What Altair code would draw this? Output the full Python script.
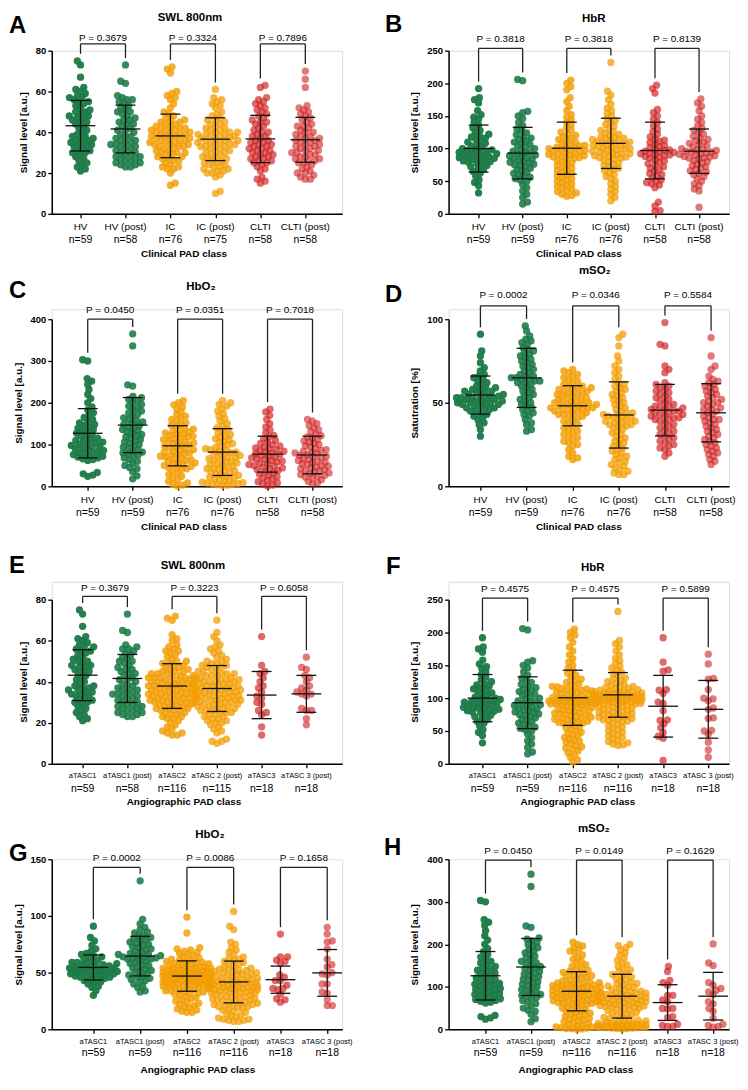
import altair as alt
import pandas as pd

FONT = "Liberation Sans"

CLIN = ["HV", "HV (post)", "IC", "IC (post)", "CLTI", "CLTI (post)"]
ANGIO = ["aTASC1", "aTASC1 (post)", "aTASC2", "aTASC 2 (post)", "aTASC3", "aTASC 3 (post)"]
COLORS = ["#1b7a46", "#1b7a46", "#f29d00", "#f29d00", "#cf1f1f", "#cf1f1f"]
OPACITY = [0.95, 0.6, 0.95, 0.62, 0.95, 0.58]

# ---------------- Panel A : SWL 800nm (clinical) ----------------
A_HV = [75,73,67,62,61,60,59,58,57,57,56,55,55,54,53,52,51,50,50,49,48,48,47,47,46,45,45,44,43,42,41,40,39,38,38,37,37,36,36,35,35,34,34,33,33,32,31,31,30,30,29,28,27,26,25,24,23,22,21]
A_HVP = [73,65,64,58,57,56,56,55,54,53,52,51,50,50,49,48,47,46,46,45,44,44,43,42,41,41,40,39,38,38,37,36,36,35,35,34,34,33,33,32,32,31,30,30,29,29,28,28,27,27,26,26,25,25,24,24,23,23]
A_IC = [72,71,69,60,59,58,57,56,54,52,50,49,48,47,46,46,45,45,44,44,43,43,42,42,42,41,41,41,40,40,40,39,39,39,38,38,38,37,37,37,36,36,36,35,35,35,34,34,34,33,33,33,32,32,31,31,30,30,30,29,29,28,28,27,27,26,26,25,24,23,23,22,22,20,15,14]
A_ICP = [61,57,56,55,54,53,52,50,49,48,47,46,46,45,44,44,43,42,42,41,41,40,40,40,39,39,39,38,38,38,37,37,37,36,36,36,35,35,35,34,34,34,33,33,33,32,32,31,31,30,30,29,29,28,28,27,27,26,26,25,25,24,24,23,23,22,22,21,21,20,20,19,18,11,10]
A_CLTI = [63,62,57,56,55,54,53,52,51,50,49,48,47,46,45,45,44,43,42,41,40,40,39,38,38,37,36,36,35,35,34,34,33,33,32,32,31,31,30,30,29,29,28,28,27,27,26,26,25,25,24,23,22,21,18,17,16,15]
A_CLTIP = [70,66,62,53,52,51,50,49,48,47,46,45,44,43,43,42,41,40,40,39,38,38,37,37,36,36,35,35,34,34,33,33,32,32,31,31,30,30,29,29,28,28,27,27,26,26,25,25,24,23,22,21,20,20,19,18,17,17]
A_N = ["n=59", "n=58", "n=76", "n=75", "n=58", "n=58"]
A_MEAN = [43.2, 41.6, 38.2, 36.6, 36.7, 36.3]
A_SD = [12.4, 11.7, 10.7, 10.5, 11.6, 11.0]
A_P = ["P = 0.3679", "P = 0.3324", "P = 0.7896"]

# ---------------- Panel B : HbR (clinical) ----------------
B_HV = [192,178,175,170,158,152,148,145,140,136,132,128,125,122,120,118,116,114,112,110,108,106,104,102,100,99,98,97,96,95,94,93,92,91,90,89,88,87,86,85,84,83,82,81,80,79,78,76,74,72,70,68,65,62,58,52,48,43,32]
B_HVP = [206,204,157,155,150,146,140,135,130,127,124,121,118,116,114,112,110,108,106,104,102,100,98,96,95,94,92,90,89,88,86,85,84,82,80,79,78,76,75,74,72,70,68,66,64,62,60,58,56,54,52,50,45,40,35,30,25,18,15]
B_IC = [205,200,195,190,178,172,165,158,152,148,144,140,136,132,128,125,122,120,118,116,114,112,110,108,106,105,104,103,102,101,100,99,98,97,96,95,94,93,92,91,90,89,88,87,86,85,84,82,80,78,76,74,72,70,68,66,64,62,60,58,56,54,52,50,48,46,44,42,40,38,36,34,32,30,28,27]
B_ICP = [232,188,182,175,168,162,158,154,150,146,143,140,137,134,131,128,126,124,122,120,118,117,116,115,114,113,112,111,110,109,108,107,106,105,104,103,102,101,100,99,98,97,96,95,94,93,92,91,90,89,88,87,86,85,84,82,80,78,76,74,72,70,68,66,63,60,57,54,50,46,42,38,34,30,25,20]
B_CLTI = [197,192,185,160,155,150,145,140,135,130,126,122,118,115,113,111,109,107,105,103,101,99,98,97,96,95,94,93,92,91,90,89,88,87,85,83,81,79,77,75,72,70,68,65,62,60,58,55,52,50,48,46,44,40,18,12,5,4]
B_CLTIP = [176,170,165,158,150,145,140,135,131,128,125,122,119,116,114,112,110,108,106,104,102,100,99,98,97,96,95,94,93,92,91,90,89,88,87,86,85,84,82,80,78,76,74,72,70,68,66,64,62,60,57,54,50,46,43,38,35,10]
B_N = ["n=59", "n=59", "n=76", "n=76", "n=58", "n=58"]
B_MEAN = [100, 93, 100.5, 108, 97, 96]
B_SD = [36, 39.5, 40, 38.5, 43.5, 34]
B_P = ["P = 0.3818", "P = 0.3818", "P = 0.8139"]

# ---------------- Panel C : HbO2 (clinical) ----------------
C_HV = [303,300,258,252,244,232,220,210,200,190,183,176,170,165,160,156,152,148,145,142,139,136,133,130,127,124,121,118,115,112,110,108,106,104,102,100,98,96,94,92,90,88,86,84,82,80,78,76,74,72,70,68,66,64,62,33,30,27,24]
C_HVP = [365,336,243,240,215,212,208,204,200,196,192,188,184,180,176,172,168,164,160,157,154,151,148,145,142,139,136,133,130,127,124,121,118,115,112,109,106,103,100,97,94,91,88,85,82,80,78,75,72,68,64,60,55,50,45,42,35,25,18]
C_IC = [205,200,195,190,185,178,172,168,164,160,156,152,149,146,143,140,137,134,132,130,128,126,124,122,120,118,116,114,112,110,108,106,104,102,100,98,96,94,92,90,88,86,84,82,80,78,76,74,72,70,68,66,64,62,60,58,56,54,52,50,48,46,44,42,40,36,32,28,24,20,16,12,8,5,3,1]
C_ICP = [205,200,196,192,186,180,174,168,162,156,150,145,140,136,132,128,124,120,117,114,111,108,105,102,99,96,93,90,88,86,84,82,80,78,76,74,72,70,68,66,64,62,60,58,56,54,52,50,48,46,44,42,40,38,36,34,32,30,28,26,24,22,20,18,16,14,12,10,9,8,7,6,5,4,3,2]
C_CLTI = [185,178,170,160,150,142,135,128,122,118,114,110,106,103,100,97,94,92,90,88,86,84,82,80,78,76,74,72,70,68,66,64,62,60,58,56,54,52,50,48,46,44,42,40,38,35,32,29,26,23,20,17,14,11,8,5,3,1]
C_CLTIP = [160,156,150,145,140,135,130,125,121,118,115,112,109,106,103,100,97,94,91,88,86,84,82,80,78,76,74,72,70,68,66,64,62,60,58,56,54,52,50,48,46,44,42,40,38,36,34,32,30,28,26,24,22,20,16,12,8,5]
C_N = ["n=59", "n=59", "n=76", "n=76", "n=58", "n=58"]
C_MEAN = [127, 146.5, 97, 82, 77, 75]
C_SD = [59, 66, 48, 56, 43, 45]
C_P = ["P = 0.0450", "P = 0.0351", "P = 0.7018"]

# ---------------- Panel D : mSO2 (clinical) ----------------
D_HV = [91,81,78,74,71,69,67,66,65,64,63,62,61,60,59,59,58,58,57,57,56,56,55,55,54,54,54,53,53,53,52,52,52,51,51,51,50,50,50,49,49,49,48,48,47,47,46,46,45,45,44,43,42,41,40,38,37,34,30]
D_HVP = [96,93,90,88,87,86,85,83,82,81,80,79,78,77,76,75,74,73,72,71,70,69,68,67,66,66,65,65,64,64,63,63,62,62,61,60,59,58,57,56,55,54,53,52,51,50,49,48,47,46,45,44,43,42,40,38,37,34,33]
D_IC = [70,69,68,67,66,65,64,63,62,61,60,60,59,59,58,58,57,57,56,56,55,55,54,54,53,53,52,52,51,51,50,50,50,49,49,49,48,48,48,47,47,47,46,46,46,45,45,44,44,43,43,42,42,41,40,39,38,37,36,35,34,33,32,31,30,29,28,27,26,25,24,22,20,18,17,16]
D_ICP = [91,89,84,78,75,72,70,68,66,64,62,61,60,59,58,57,56,55,54,53,52,51,50,49,48,47,46,45,44,44,43,43,42,42,41,41,40,40,39,39,38,38,37,37,36,36,35,34,33,32,31,30,29,28,27,26,25,24,23,22,21,20,19,18,17,16,15,14,13,12,11,10,9,8,7,7]
D_CLTI = [98,85,84,72,70,68,62,61,60,59,58,57,56,55,54,53,52,51,50,49,48,48,47,47,46,46,45,45,44,44,43,43,42,42,41,41,40,40,39,38,37,36,35,34,33,32,31,30,29,28,27,26,25,24,23,22,20,18]
D_CLTIP = [89,78,72,70,66,64,63,62,61,60,59,58,57,56,55,54,53,52,51,50,50,49,48,47,46,46,45,44,43,42,41,40,40,39,38,37,36,35,34,33,32,31,30,29,28,27,26,25,24,23,22,21,20,19,18,16,15,13]
D_N = ["n=59", "n=59", "n=76", "n=76", "n=58", "n=58"]
D_MEAN = [54.6, 64.9, 48.2, 42.7, 45.6, 44.0]
D_SD = [11.4, 17.7, 12.0, 19.8, 15.4, 17.4]
D_P = ["P = 0.0002", "P = 0.0346", "P = 0.5584"]

# ---------------- Panel E : SWL 800nm (angiographic) ----------------
E_T1 = A_HV
E_T1P = A_HVP
E_T2 = [72,71,70,63,61,60,58,57,56,55,55,54,53,52,51,50,50,49,49,48,48,47,47,46,46,45,45,45,44,44,44,43,43,43,42,42,42,42,41,41,41,41,40,40,40,40,39,39,39,39,38,38,38,38,37,37,37,37,36,36,36,36,35,35,35,35,34,34,34,34,33,33,33,33,32,32,32,32,31,31,31,31,30,30,30,30,29,29,29,28,28,28,27,27,27,26,26,26,25,25,24,24,23,23,22,22,21,20,19,18,17,16,15,15,14,14]
E_T2P = [70,64,62,60,58,57,56,55,54,53,52,51,50,50,49,49,48,48,47,47,46,46,45,45,44,44,44,43,43,43,42,42,42,41,41,41,40,40,40,40,39,39,39,39,38,38,38,38,37,37,37,37,36,36,36,36,35,35,35,35,34,34,34,34,33,33,33,33,32,32,32,32,31,31,31,31,30,30,30,30,29,29,29,29,28,28,28,27,27,27,26,26,26,25,25,25,24,24,23,23,22,22,21,21,20,20,19,18,17,16,15,12,11,11,10]
E_T3 = [62,48,45,44,42,40,38,37,35,33,32,30,29,26,25,24,18,14]
E_T3P = [52,47,46,43,42,40,38,37,36,35,34,34,33,27,26,26,22,19]
E_N = ["n=59", "n=58", "n=116", "n=115", "n=18", "n=18"]
E_MEAN = [43.2, 41.6, 37.9, 36.7, 33.5, 34.1]
E_SD = [12.4, 11.7, 10.9, 11.2, 11.5, 9.0]
E_P = ["P = 0.3679", "P = 0.3223", "P = 0.6058"]

# ---------------- Panel F : HbR (angiographic) ----------------
F_T1 = B_HV
F_T1P = B_HVP
F_T2 = [205,200,196,192,185,178,172,166,160,155,150,146,142,138,135,132,129,126,124,122,120,118,117,116,115,114,113,112,111,110,109,108,107,106,105,104,103,102,101,100,100,99,99,98,98,97,97,96,96,95,95,94,94,93,93,92,92,91,91,90,90,89,88,87,86,85,84,83,82,81,80,79,78,77,76,75,74,73,72,71,70,69,68,67,66,65,64,63,62,61,60,58,56,54,52,50,48,46,44,42,40,38,36,34,32,30,28,26,24,22,20,17,14,10,6,3]
F_T2P = [232,188,183,178,172,166,161,157,153,149,146,143,140,137,134,131,129,127,125,123,121,119,118,117,116,115,114,113,112,111,110,110,109,109,108,108,107,107,106,106,105,105,104,104,103,103,102,102,101,101,100,100,99,99,98,98,97,97,96,96,95,95,94,94,93,93,92,92,91,91,90,89,88,87,86,85,84,83,82,81,80,79,78,77,76,75,74,73,72,71,70,69,68,67,66,65,64,62,60,58,56,54,52,50,48,46,44,42,40,38,36,34,32,30,29,28]
F_T3 = [192,155,143,141,113,112,107,94,92,81,67,66,61,55,48,42,39,5]
F_T3P = [167,152,130,129,113,100,99,96,85,83,70,69,51,50,45,33,21,10]
F_N = ["n=59", "n=59", "n=116", "n=116", "n=18", "n=18"]
F_MEAN = [100, 93, 100.6, 105, 87.7, 83]
F_SD = [36, 39.5, 42, 34, 47, 44]
F_P = ["P = 0.4575", "P = 0.4575", "P = 0.5899"]

# ---------------- Panel G : HbO2 (angiographic) ----------------
G_T1 = D_HV
G_T1P = [131,97,93,90,88,86,85,83,82,81,80,79,78,77,76,75,74,73,72,71,70,69,68,67,66,66,65,65,64,64,63,63,62,62,61,60,59,58,57,56,55,54,53,52,51,50,49,48,47,46,45,44,43,42,40,38,37,34,33]
G_T2 = [99,85,72,71,70,69,68,67,66,65,64,63,62,61,61,60,60,59,59,58,58,57,57,56,56,55,55,55,54,54,54,53,53,53,52,52,52,51,51,51,50,50,50,50,49,49,49,49,48,48,48,48,47,47,47,47,46,46,46,46,45,45,45,45,44,44,44,44,43,43,43,42,42,42,41,41,41,40,40,40,39,39,39,38,38,38,37,37,36,36,35,35,34,34,33,33,32,32,31,30,29,28,27,26,25,24,23,22,21,20,19,18,17,16,15,15]
G_T2P = [104,91,88,77,75,72,70,68,66,64,63,62,61,60,59,58,57,56,55,54,53,53,52,52,51,51,50,50,49,49,48,48,47,47,46,46,45,45,44,44,43,43,43,42,42,42,41,41,41,40,40,40,39,39,39,38,38,38,37,37,37,36,36,36,35,35,35,34,34,34,33,33,33,32,32,31,31,30,30,29,29,28,28,27,27,26,26,25,25,24,24,23,23,22,22,21,21,20,20,19,19,18,17,16,15,14,13,12,11,10,9,9,8,8,7,7]
G_T3 = [84,64,64,61,60,58,48,46,43,43,39,36,36,35,31,27,26,24]
G_T3P = [90,84,78,77,71,62,57,55,50,49,48,40,40,33,32,26,21,21]
G_N = ["n=59", "n=59", "n=116", "n=116", "n=18", "n=18"]
G_MEAN = [54.6, 64.6, 47.0, 41.8, 43.8, 49.8]
G_SD = [11.0, 17.5, 13.4, 18.4, 12.0, 20.6]
G_P = ["P = 0.0002", "P = 0.0086", "P = 0.1658"]

# ---------------- Panel H : mSO2 (angiographic) ----------------
H_T1 = C_HV
H_T1P = C_HVP
H_T2 = [205,200,196,192,188,184,180,175,170,165,160,156,152,148,145,142,139,136,134,132,130,128,126,124,122,120,118,116,114,112,110,109,108,107,106,105,104,103,102,101,100,99,98,97,96,95,94,93,92,91,90,89,88,87,86,85,84,83,82,81,80,79,78,77,76,75,74,73,72,71,70,69,68,67,66,65,64,63,62,61,60,58,56,54,52,50,48,46,44,42,40,38,36,34,32,30,28,26,24,22,20,18,16,14,12,10,8,7,6,5,4,3,2,2,1,0]
H_T2P = [200,197,192,186,180,174,168,162,157,152,148,144,140,136,132,129,126,123,120,117,114,111,108,106,104,102,100,98,96,94,92,90,88,87,86,85,84,83,82,81,80,79,78,77,76,75,74,73,72,71,70,69,68,67,66,65,64,63,62,61,60,59,58,57,56,55,54,53,52,51,50,48,46,44,42,40,38,36,34,32,30,28,26,24,22,20,19,18,17,16,15,14,13,12,12,11,11,10,10,9,9,8,8,7,7,6,6,5,5,4,4,3,3,2,2,1]
H_T3 = [148,136,115,110,104,80,80,69,65,49,49,48,30,28,12,9,7,7]
H_T3P = [201,156,150,110,104,96,92,88,82,65,60,49,42,26,12,9,7,5]
H_N = ["n=59", "n=59", "n=116", "n=116", "n=18", "n=18"]
H_MEAN = [126, 146.6, 89.6, 78, 63, 78]
H_SD = [57, 67, 46, 51.5, 42, 56]
H_P = ["P = 0.0450", "P = 0.0149", "P = 0.1629"]

SIG = "Signal level [a.u.]"
CLX = "Clinical PAD class"
ANX = "Angiographic PAD class"

PANELS = {
    "A": dict(groups=[A_HV, A_HVP, A_IC, A_ICP, A_CLTI, A_CLTIP], names=CLIN, ns=A_N, mean=A_MEAN, sd=A_SD, p=A_P,
              title="SWL 800nm", ymax=80, yticks=[0, 20, 40, 60, 80], ytitle=SIG, xtitle=CLX, bracket=83.3),
    "B": dict(groups=[B_HV, B_HVP, B_IC, B_ICP, B_CLTI, B_CLTIP], names=CLIN, ns=B_N, mean=B_MEAN, sd=B_SD, p=B_P,
              title="HbR", ymax=250, yticks=[0, 50, 100, 150, 200, 250], ytitle=SIG, xtitle=CLX, bracket=253.5),
    "C": dict(groups=[C_HV, C_HVP, C_IC, C_ICP, C_CLTI, C_CLTIP], names=CLIN, ns=C_N, mean=C_MEAN, sd=C_SD, p=C_P,
              title="HbO₂", ymax=400, yticks=[0, 100, 200, 300, 400], ytitle=SIG, xtitle=CLX, bracket=400),
    "D": dict(groups=[D_HV, D_HVP, D_IC, D_ICP, D_CLTI, D_CLTIP], names=CLIN, ns=D_N, mean=D_MEAN, sd=D_SD, p=D_P,
              title="mSO₂", ymax=100, yticks=[0, 50, 100], ytitle="Satutration [%]", xtitle=CLX, bracket=108),
    "E": dict(groups=[E_T1, E_T1P, E_T2, E_T2P, E_T3, E_T3P], names=ANGIO, ns=E_N, mean=E_MEAN, sd=E_SD, p=E_P,
              title="SWL 800nm", ymax=80, yticks=[0, 20, 40, 60, 80], ytitle=SIG, xtitle=ANX, bracket=81.6),
    "F": dict(groups=[F_T1, F_T1P, F_T2, F_T2P, F_T3, F_T3P], names=ANGIO, ns=F_N, mean=F_MEAN, sd=F_SD, p=F_P,
              title="HbR", ymax=250, yticks=[0, 50, 100, 150, 200, 250], ytitle=SIG, xtitle=ANX, bracket=252.5),
    "G": dict(groups=[G_T1, G_T1P, G_T2, G_T2P, G_T3, G_T3P], names=ANGIO, ns=G_N, mean=G_MEAN, sd=G_SD, p=G_P,
              title="HbO₂", ymax=150, yticks=[0, 50, 100, 150], ytitle=SIG, xtitle=ANX, bracket=142.8),
    "H": dict(groups=[H_T1, H_T1P, H_T2, H_T2P, H_T3, H_T3P], names=ANGIO, ns=H_N, mean=H_MEAN, sd=H_SD, p=H_P,
              title="mSO₂", ymax=400, yticks=[0, 100, 200, 300, 400], ytitle=SIG, xtitle=ANX, bracket=398),
}

# layout: W/H plot size, off = empty band above the plot inside the cell (rows share one spacing)
W1, W2 = 292, 282
LAYOUT = {
    "A": dict(W=W1, H=164, off=0, xdom=[-0.64, 5.82], tdx=139, tdy=-33, pdy=-13, ldx=-43, ldy=-37, lab=(13, 26, 40), xdx=133, nsz=10),
    "B": dict(W=W2, H=164, off=0, xdom=[-0.68, 5.68], tdx=146, tdy=-32, pdy=-12, ldx=-64, ldy=-38, lab=(13, 26, 40), xdx=131, nsz=10),
    "C": dict(W=W1, H=168, off=10, xdom=[-0.80, 5.66], tdx=150, tdy=-32, pdy=-9, ldx=-43, ldy=-40, lab=(14, 27, 41), xdx=133, nsz=10),
    "D": dict(W=W2, H=168, off=10, xdom=[-0.69, 5.39], tdx=147, tdy=-48, pdy=-24, ldx=-64, ldy=-36, lab=(14, 27, 41), xdx=131, nsz=10),
    "E": dict(W=W1, H=165, off=18, xdom=[-0.69, 5.80], tdx=142, tdy=-34, pdy=-12, ldx=-43, ldy=-46, lab=(12, 25, 38), xdx=133, nsz=7.5),
    "F": dict(W=W2, H=165, off=18, xdom=[-0.75, 5.46], tdx=145, tdy=-32, pdy=-11, ldx=-63, ldy=-45, lab=(12, 25, 38), xdx=130, nsz=7.5),
    "G": dict(W=W1, H=171, off=0, xdom=[-0.89, 5.32], tdx=159, tdy=-24, pdy=-1, ldx=-43, ldy=-17, lab=(13, 24, 41), xdx=147, nsz=7.5),
    "H": dict(W=W2, H=171, off=0, xdom=[-0.81, 5.35], tdx=146, tdy=-30, pdy=-8, ldx=-65, ldy=-23, lab=(13, 24, 41), xdx=128, nsz=7.5),
}

DOT_D = 5.2    # beeswarm spacing in px (dots overlap as in the original)
MAX_HALF = 24  # widest swarm half-width in px


def swarm(vals, pyu, d):
    ys = [v * pyu for v in vals]
    order = sorted(range(len(vals)), key=lambda i: ys[i])
    placed, xs = [], [0.0] * len(vals)
    flip = 1
    for i in order:
        y = ys[i]
        near = [(px, py) for px, py in placed if abs(py - y) < d]
        forb = []
        for px, py in near:
            dy = abs(py - y)
            w = (d * d - dy * dy) ** 0.5
            forb.append((px - w, px + w))
        cands = [0.0] + [a for a, b in forb] + [b for a, b in forb]
        cands.sort(key=lambda c: (round(abs(c), 6), flip * c))
        best = None
        for c in cands:
            if all(not (a + 1e-6 < c < b - 1e-6) for a, b in forb):
                best = c
                break
        if best is None or abs(best) > MAX_HALF:
            # too crowded: take the least-overlapping spot inside the allowed width
            score_best = None
            for k in range(-MAX_HALF, MAX_HALF + 1):
                c = float(k * flip)
                sc = 0.0
                for px, py in near:
                    dist = ((px - c) ** 2 + (py - y) ** 2) ** 0.5
                    if dist < d:
                        sc += d - dist
                sc += abs(c) * 0.02
                if score_best is None or sc < score_best:
                    score_best, best = sc, c
        xs[i] = best
        placed.append((best, y))
        flip = -flip
    return xs


def panel(key):
    P, L = PANELS[key], LAYOUT[key]
    W, H, off = L["W"], L["H"], L["off"]
    HC = H + off
    pxu = W / (L["xdom"][1] - L["xdom"][0])
    pyu = H / P["ymax"]
    gdom = [str(i) for i in range(6)]

    xenc = alt.X("xp:Q", scale=alt.Scale(domain=L["xdom"], nice=False, zero=False),
                 axis=alt.Axis(values=[0, 1, 2, 3, 4, 5], labels=False, title=None, grid=False,
                               domainColor="black", tickColor="black", domainWidth=1.5,
                               tickWidth=1.3, tickSize=4))
    yenc = alt.Y("v:Q", scale=alt.Scale(domain=[0, P["ymax"]], range=[HC, off], nice=False),
                 axis=alt.Axis(values=P["yticks"], title=P["ytitle"], grid=False,
                               titleFont=FONT, titleFontSize=10, titleFontWeight="bold", titleColor="black",
                               labelFont=FONT, labelFontSize=9.5, labelFontWeight="bold", labelColor="black",
                               domainColor="black", tickColor="black", domainWidth=1.5, tickWidth=1.3,
                               tickSize=4, labelPadding=2, titlePadding=7))

    rows = []
    for gi, vals in enumerate(P["groups"]):
        offs = swarm(vals, pyu, DOT_D)
        for v, o in zip(vals, offs):
            rows.append({"g": str(gi), "v": v, "xp": gi + o / pxu})
    pts = alt.Chart(pd.DataFrame(rows)).mark_circle(size=54, strokeWidth=0).encode(
        x=xenc, y=yenc,
        color=alt.Color("g:N", scale=alt.Scale(domain=gdom, range=COLORS), legend=None),
        opacity=alt.Opacity("g:N", scale=alt.Scale(domain=gdom, range=OPACITY), legend=None),
    )

    hl, vl = [], []
    for gi in range(6):
        m, s = P["mean"][gi], P["sd"][gi]
        hl.append({"xp": gi - 15 / pxu, "xp2": gi + 15 / pxu, "v": m})
        hl.append({"xp": gi - 10 / pxu, "xp2": gi + 10 / pxu, "v": m + s})
        hl.append({"xp": gi - 10 / pxu, "xp2": gi + 10 / pxu, "v": m - s})
        vl.append({"xp": gi, "v": m - s, "v2": m + s})
    hrule = alt.Chart(pd.DataFrame(hl)).mark_rule(color="#111", strokeWidth=1.3).encode(
        x=xenc, x2="xp2:Q", y=yenc)
    vrule = alt.Chart(pd.DataFrame(vl)).mark_rule(color="#111", strokeWidth=1.3).encode(
        x=xenc, y=yenc, y2="v2:Q")

    bh = P["bracket"]
    bl, bv = [], []
    for k in range(3):
        a, b = 2 * k, 2 * k + 1
        bl.append({"xp": a, "xp2": b, "v": bh})
        for gi in (a, b):
            bottom = min(max(P["groups"][gi]) + 7 / pyu, bh)
            bv.append({"xp": gi, "v": bottom, "v2": bh})
    bh_rule = alt.Chart(pd.DataFrame(bl)).mark_rule(color="#222", strokeWidth=1.3).encode(
        x=xenc, x2="xp2:Q", y=yenc)
    bv_rule = alt.Chart(pd.DataFrame(bv)).mark_rule(color="#222", strokeWidth=1.3).encode(
        x=xenc, y=yenc, y2="v2:Q")

    ptxt = alt.Chart(pd.DataFrame({"xp": [0.5, 2.5, 4.5], "t": P["p"]})).mark_text(
        font=FONT, fontSize=10, color="black", baseline="middle").encode(
        x=xenc, y=alt.value(off + L["pdy"]), text="t:N")

    la, lb, lc = L["lab"]
    names = alt.Chart(pd.DataFrame({"xp": list(range(6)), "t": P["names"]})).mark_text(
        font=FONT, fontSize=L["nsz"], color="black", baseline="middle").encode(
        x=xenc, y=alt.value(HC + la), text="t:N")
    ns = alt.Chart(pd.DataFrame({"xp": list(range(6)), "t": P["ns"]})).mark_text(
        font=FONT, fontSize=10.5, color="black", baseline="middle").encode(
        x=xenc, y=alt.value(HC + lb), text="t:N")
    one = pd.DataFrame({"k": [0]})
    xt = alt.Chart(one).mark_text(text=P["xtitle"], font=FONT, fontSize=10, fontWeight="bold",
                                  color="black", baseline="middle").encode(
        x=alt.value(L["xdx"]), y=alt.value(HC + lc))
    title = alt.Chart(one).mark_text(text=P["title"], font=FONT, fontSize=11.5, fontWeight="bold",
                                     color="black", baseline="middle").encode(
        x=alt.value(L["tdx"]), y=alt.value(off + L["tdy"]))
    letter = alt.Chart(one).mark_text(text=key, font=FONT, fontSize=24, fontWeight="bold",
                                      color="black", baseline="top", align="left").encode(
        x=alt.value(L["ldx"]), y=alt.value(off + L["ldy"]))

    return alt.layer(pts, vrule, hrule, bh_rule, bv_rule, ptxt, names, ns, xt, title, letter).properties(
        width=W, height=HC)


chart = alt.concat(*[panel(k) for k in "ABCDEFGH"], columns=2,
                   spacing={"row": 96, "column": 107}, bounds="flush").properties(
    padding=0).configure_view(stroke=None).configure(font=FONT)

chart.save("out.html", embed_options={"renderer": "svg", "actions": False})
